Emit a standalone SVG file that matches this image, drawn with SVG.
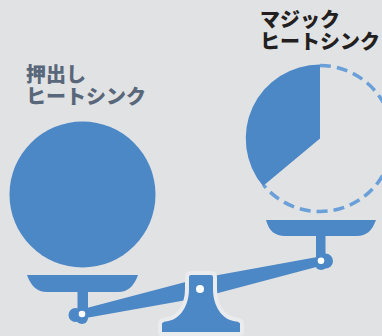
<svg xmlns="http://www.w3.org/2000/svg" width="382" height="336" viewBox="0 0 382 336">
  <style>
    .blue { fill: #4c87c6; }
    .pin { fill: #ffffff; }
    .label { font-family: "Noto Sans CJK JP", "Noto Sans", sans-serif; font-weight: 900; font-size: 20px; }
    .label-left { fill: #59677a; }
    .label-right { fill: #231f20; }
    .dash { fill: none; stroke: #6a9fd8; stroke-width: 3.5; stroke-dasharray: 11 6; }
    .halo { stroke: #eaebed; stroke-width: 8; stroke-linejoin: round; paint-order: stroke; }
  </style>

  <rect width="382" height="336" fill="#e1e2e4"/>

  <!-- balance beam -->
  <g id="connectors">
    <polygon class="blue" points="81,309.6 197.9,278.7 320,256.6 322,265.4 202.1,297.3 83,318.4"/>
  </g>

  <!-- left weight: extruded heat sink -->
  <g id="label-extruded">
    <text class="label label-left" x="26" y="82"><tspan x="26">押出し</tspan><tspan x="26" dy="22">ヒートシンク</tspan></text>
  </g>
  <g id="weight-extruded">
    <circle class="blue" cx="82.5" cy="194.5" r="73"/>
  </g>

  <!-- right weight: partial sector with dashed outline -->
  <g id="label-magic">
    <text class="label label-right" x="260" y="27"><tspan x="260">マジック</tspan><tspan x="260" dy="22">ヒートシンク</tspan></text>
  </g>
  <g id="weight-magic">
    <path class="dash" d="M320,65.5 A73,73 0 1 1 263.5,185"/>
    <path class="blue" d="M320,138.5 V64.5 A74,74 0 0 0 263,186 Z"/>
  </g>

  <!-- left pan -->
  <g id="pan-left">
    <rect class="blue" x="77.5" y="288" width="10.5" height="26"/>
    <path class="blue" d="M27,275 H138 C134,286 128,292 118,292 H47 C37,292 31,286 27,275 Z"/>
    <circle class="blue" cx="75.5" cy="315" r="7"/>
    <circle class="blue" cx="82" cy="318" r="6"/>
    <circle class="pin" cx="82" cy="314" r="3.3"/>
  </g>

  <!-- right pan -->
  <g id="pan-right">
    <rect class="blue" x="316" y="232" width="9.5" height="29"/>
    <path class="blue" d="M266,220 H376 C372,231 366,236 357,236 H285 C275,236 269,231 266,220 Z"/>
    <circle class="blue" cx="325.5" cy="261" r="7.5"/>
    <circle class="blue" cx="321" cy="264" r="6"/>
    <circle class="pin" cx="321" cy="260.7" r="3.3"/>
  </g>

  <!-- fulcrum stand -->
  <g id="fulcrum">
    <path class="blue halo" d="M192,275 H211 Q213,275 213,277 V289 C213,306 222,320 236,321.5 Q240,322 240,324 V332 H162 V324 Q162,322 166,321.5 C180,320 189,306 189,289 V277 Q189,275 191,275 Z"/>
    <circle class="pin" cx="200" cy="289" r="4"/>
  </g>
</svg>
